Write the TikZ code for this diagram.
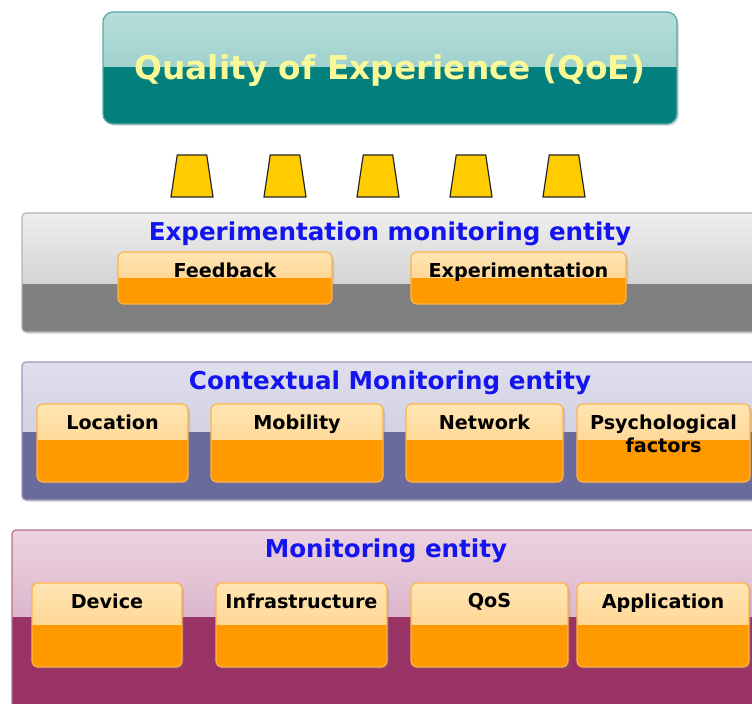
\documentclass[tikz,border=0pt]{standalone}
\usepackage{fontspec}
\setmainfont{DejaVu Sans}
\usepackage{tikz}
\usepackage{xcolor}
\usetikzlibrary{positioning, shapes.geometric, calc, shadows}

\definecolor{teallight}{HTML}{B6DEDA}
\definecolor{tealmid}{HTML}{8AC4C0}
\definecolor{tealdark}{HTML}{037F7E}
\definecolor{tealline}{HTML}{5AA8A6}
\definecolor{qoetext}{HTML}{F8F898}
\definecolor{titleblue}{HTML}{1414EE}
\definecolor{graylight}{HTML}{EEEEEE}
\definecolor{graymid}{HTML}{C2C2C2}
\definecolor{graydark}{HTML}{808080}
\definecolor{grayline}{HTML}{B4B4B4}
\definecolor{lavlight}{HTML}{DEDEEC}
\definecolor{lavmid}{HTML}{C6C6DA}
\definecolor{lavdark}{HTML}{6A6A9C}
\definecolor{lavline}{HTML}{9A9AC0}
\definecolor{pinklight}{HTML}{ECD2E0}
\definecolor{pinkmid}{HTML}{CC9AB6}
\definecolor{pinkdark}{HTML}{993366}
\definecolor{pinkline}{HTML}{B8708E}
\definecolor{orlight}{HTML}{FFE6B4}
\definecolor{ormid}{HTML}{FFC878}
\definecolor{ordark}{HTML}{FF9900}
\definecolor{orline}{HTML}{FFB347}
\definecolor{coneyellow}{HTML}{FFCC00}

\tikzset{
  twotone/.style n args={5}{draw=#4, path picture={
      \shade[sharp corners, top color=#1, bottom color=#2] (path picture bounding box.north west) rectangle ($(path picture bounding box.north east)!#5!(path picture bounding box.south east)$);
      \fill[sharp corners, #3] ($(path picture bounding box.north west)!#5!(path picture bounding box.south west)$) rectangle (path picture bounding box.south east);
    }},
  softshadow/.style={drop shadow={opacity=0.25, shadow xshift=1pt, shadow yshift=-1pt}},
  layer/.style n args={5}{twotone={#1}{#2}{#3}{#4}{#5}, rectangle, rounded corners=2pt, inner sep=0pt, line width=0.6pt, softshadow},
  unit/.style={twotone={orlight}{ormid}{ordark}{orline}{#1}, rectangle, rounded corners=3pt, inner sep=0pt, line width=0.6pt, softshadow},
  unit/.default=0.5,
  layertitle/.style={anchor=north, yshift=-1pt, text=titleblue, font=\bfseries\fontsize{12.3}{15}\selectfont},
  unitlabel/.style={anchor=north, yshift=-2pt, align=center, font=\bfseries\fontsize{9.6}{11.5}\selectfont},
  cone/.style={trapezium, trapezium left angle=78, trapezium right angle=78, trapezium stretches=true, minimum width=21pt, minimum height=21pt, inner sep=1pt, fill=coneyellow, draw=black!85, line width=0.6pt},
}

\begin{document}
\begin{tikzpicture}[x=0.5pt, y=-0.5pt]
    \useasboundingbox (0, 0) rectangle (752, 704);
    \clip (0, 0) rectangle (752, 704);

    % top box
    \node [twotone={teallight}{tealmid}{tealdark}{tealline}{0.49}, rectangle, rounded corners=5pt, line width=0.6pt, softshadow, minimum width=287pt, minimum height=56pt, text=qoetext, text height=12.5pt, text depth=0.5pt, font=\bfseries\fontsize{16.4}{19}\selectfont] (qoe) at (390, 68) {Quality of Experience (QoE)};

    \foreach \i in {0,...,4}
        \node [cone] (cone\i) at ({192 + 93*\i}, 176) {};

    % layers
    \node [layer={graylight}{graymid}{graydark}{grayline}{0.6}, minimum width=368pt, minimum height=59.5pt, label={[layertitle]north:Experimentation monitoring entity}] (expent) at (390, 272.5) {};
    \node [layer={lavlight}{lavmid}{lavdark}{lavline}{0.51}, minimum width=368pt, minimum height=69pt, label={[layertitle]north:Contextual Monitoring entity}] (ctxent) at (390, 431) {};
    \node [layer={pinklight}{pinkmid}{pinkdark}{pinkline}{0.49}, minimum width=374pt, minimum height=89pt, label={[layertitle]north:Monitoring entity}] (monent) at (386, 619) {};

    % experimentation units
    \node [unit, minimum width=107pt, minimum height=26pt, label={[unitlabel]north:Feedback}] (feedback) at (225, 278) {};
    \node [unit, minimum width=107.5pt, minimum height=26pt, label={[unitlabel]north:Experimentation}] (experim) at (518.5, 278) {};

    % contextual units
    \node [unit=0.46, minimum width=75.5pt, minimum height=39pt, label={[unitlabel]north:Location}] (location) at (112.5, 443) {};
    \node [unit=0.46, minimum width=86pt, minimum height=39pt, label={[unitlabel]north:Mobility}] (mobility) at (297, 443) {};
    \node [unit=0.46, minimum width=78.5pt, minimum height=39pt, label={[unitlabel]north:Network}] (network) at (484.5, 443) {};
    \node [unit=0.46, minimum width=86.5pt, minimum height=39pt, label={[unitlabel]north:{Psychological\\factors}}] (psycho) at (663.5, 443) {};

    % monitoring units
    \node [unit, minimum width=75pt, minimum height=42pt, label={[unitlabel]north:Device}] (device) at (107, 625) {};
    \node [unit, minimum width=85.5pt, minimum height=42pt, label={[unitlabel]north:Infrastructure}] (infra) at (301.5, 625) {};
    \node [unit, minimum width=78.5pt, minimum height=42pt, label={[unitlabel]north:QoS}] (qos) at (489.5, 625) {};
    \node [unit, minimum width=86pt, minimum height=42pt, label={[unitlabel]north:Application}] (appl) at (663, 625) {};
\end{tikzpicture}
\end{document}
